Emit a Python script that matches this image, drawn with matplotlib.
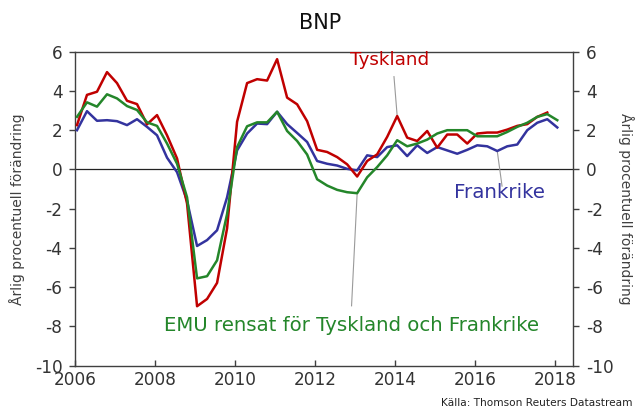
import numpy as np
import matplotlib
matplotlib.use("Agg")
import matplotlib.pyplot as plt

plt.rcParams['font.family'] = ['DejaVu Sans']

start_year = 2006.05
tyskland = [2.26, 3.8, 3.96, 4.96, 4.4, 3.5, 3.33, 2.3, 2.77, 1.74, 0.56, -1.74,
            -6.97, -6.6, -5.78, -3.0, 2.43, 4.4, 4.6, 4.53, 5.62, 3.66, 3.32, 2.46,
            1.0, 0.89, 0.63, 0.26, -0.36, 0.43, 0.77, 1.66, 2.72, 1.62, 1.45, 1.96,
            1.11, 1.78, 1.78, 1.32, 1.83, 1.88, 1.88, 2.03, 2.22, 2.31, 2.68, 2.9]
frankrike = [2.0, 2.97, 2.48, 2.51, 2.46, 2.26, 2.56, 2.17, 1.74, 0.6, -0.14, -1.59,
             -3.9, -3.6, -3.1, -1.42, 0.97, 1.83, 2.34, 2.31, 2.94, 2.31, 1.86, 1.4,
             0.43, 0.29, 0.2, 0.03, -0.05, 0.72, 0.63, 1.14, 1.23, 0.68, 1.23, 0.84,
             1.14, 0.97, 0.8, 1.0, 1.23, 1.18, 0.94, 1.18, 1.27, 2.0, 2.38, 2.56, 2.14]
emu_ex = [2.68, 3.42, 3.2, 3.83, 3.62, 3.23, 3.03, 2.4, 2.22, 1.32, 0.29, -1.42,
          -5.55, -5.44, -4.63, -2.27, 1.14, 2.2, 2.4, 2.4, 2.94, 1.96, 1.45, 0.76,
          -0.5, -0.82, -1.04, -1.16, -1.21, -0.4, 0.12, 0.72, 1.49, 1.18, 1.32, 1.52,
          1.83, 2.0, 2.0, 2.0, 1.69, 1.69, 1.69, 1.91, 2.17, 2.38, 2.68, 2.82, 2.51]
year_ticks = [2006, 2008, 2010, 2012, 2014, 2016, 2018]
y_ticks = [-10, -8, -6, -4, -2, 0, 2, 4, 6]

t_de = start_year + 0.25 * np.arange(len(tyskland))
t_fr = start_year + 0.25 * np.arange(len(frankrike))
t_emu = start_year + 0.25 * np.arange(len(emu_ex))

RED = '#C00000'
BLUE = '#33339E'
GREEN = '#24862A'
GRAY = '#404040'

fig = plt.figure(figsize=(6.36, 4.12), dpi=100)
ax = fig.add_axes([0.1179, 0.1124, 0.9014 - 0.1179, 0.8745 - 0.1124])

ax.axhline(0, color='#222222', lw=0.9, zorder=1)
ax.plot(t_fr, frankrike, color=BLUE, lw=1.8, zorder=3)
ax.plot(t_de, tyskland, color=RED, lw=1.8, zorder=4)
ax.plot(t_emu, emu_ex, color=GREEN, lw=1.8, zorder=5)

ax.set_xlim(2006.0, 2018.45)
ax.set_ylim(-10, 6)
ax.set_xticks(year_ticks)
ax.set_xticklabels([str(y) for y in year_ticks])
ax.set_yticks(y_ticks)
ax.set_yticklabels([str(v) for v in y_ticks])

for s in ax.spines.values():
    s.set_color(GRAY)
    s.set_linewidth(1.0)
ax.tick_params(axis='both', colors=GRAY, labelcolor='#333333', labelsize=12.2,
               length=4, width=1.0)
ax.tick_params(axis='x', direction='in', pad=4)
ax.tick_params(axis='y', direction='out', pad=5, right=True, labelright=True)

ax.set_ylabel('Årlig procentuell förändring', fontsize=10, color=GRAY)
ax.yaxis.set_label_coords(-0.1, 0.5)
fig.text(0.984, 0.494, 'Årlig procentuell förändring', fontsize=10, color=GRAY,
         rotation=270, ha='center', va='center')

fig.text(0.503, 0.945, 'BNP', fontsize=15, ha='center', va='center', color='#111111')
fig.text(0.995, 0.022, 'Källa: Thomson Reuters Datastream', fontsize=7.6,
         ha='right', va='center', color='#222222')

# annotations
i_de = 32
ax.text(2013.85, 5.6, 'Tyskland', color=RED, fontsize=13.2, ha='center', va='center')
ax.plot([2013.97, t_de[i_de]], [4.73, tyskland[i_de]], color='#9a9a9a', lw=0.8, zorder=2)

i_fr = 42
ax.text(2016.6, -1.2, 'Frankrike', color=BLUE, fontsize=14.3, ha='center', va='center')
ax.plot([2016.67, t_fr[i_fr]], [-0.85, frankrike[i_fr]], color='#9a9a9a', lw=0.8, zorder=2)

i_emu = 28
ax.text(2012.9, -7.97, 'EMU rensat för Tyskland och Frankrike', color=GREEN,
        fontsize=14.2, ha='center', va='center')
ax.plot([2012.91, t_emu[i_emu]], [-6.95, emu_ex[i_emu]], color='#9a9a9a', lw=0.8, zorder=2)

fig.savefig('out.png', dpi=100)
